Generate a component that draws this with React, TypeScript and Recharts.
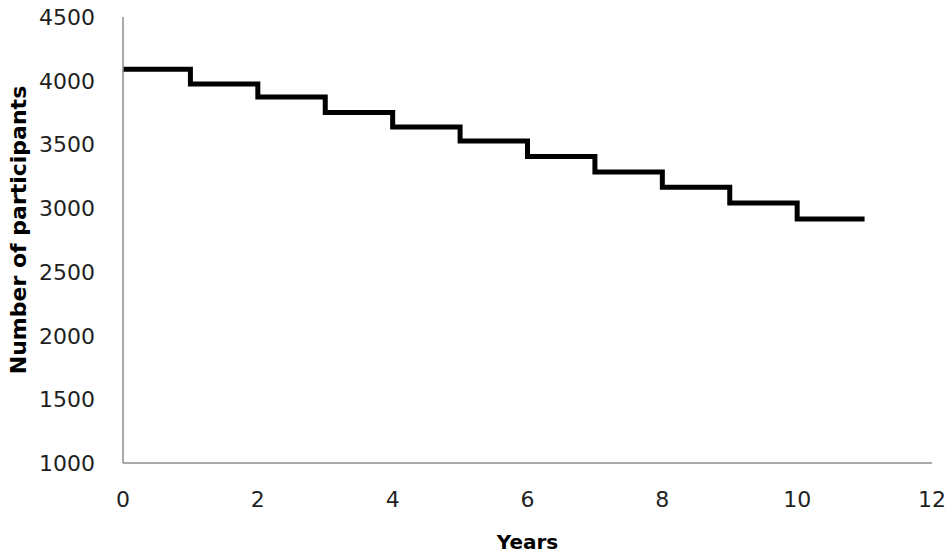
import { Line, LineChart, XAxis, YAxis } from "recharts";

// follow-up year and participants remaining (last point closes the final step)
const years = [0, 1, 2, 3, 4, 5, 6, 7, 8, 9, 10, 11];
const participants = [4090, 3975, 3873, 3750, 3637, 3526, 3406, 3284, 3163, 3040, 2915, 2915];

const xTicks = [0, 2, 4, 6, 8, 10, 12];
const yTicks = [1000, 1500, 2000, 2500, 3000, 3500, 4000, 4500];

const data = years.map((year, i) => ({ year, value: participants[i] }));

const font = "DejaVu Sans";
const titleStyle = { fontSize: 22, fontWeight: 700, fill: "#000", fontFamily: font };

const YTick = ({ x, y, payload }: any) => (
  <text x={x} y={y} dx={-28} dy={8} textAnchor="end" fontSize={22} fill="#1f1f1f" fontFamily={font}>
    {payload.value}
  </text>
);

const XTick = ({ x, y, payload }: any) => (
  <text x={x} y={y} dy={44} textAnchor="middle" fontSize={22} fill="#1f1f1f" fontFamily={font}>
    {payload.value}
  </text>
);

export default function App() {
  return (
    <div style={{ position: "absolute", left: 0, top: 0, width: 950, height: 556, background: "#fff" }}>
      <LineChart width={950} height={556} data={data} margin={{ top: 17, right: 18, bottom: 0, left: 0 }}>
        <XAxis
          dataKey="year"
          type="number"
          domain={[0, 12]}
          ticks={xTicks}
          height={93}
          tickSize={0}
          tickMargin={0}
          tick={<XTick />}
          axisLine={{ stroke: "#8c8c8c", strokeWidth: 1.5 }}
          tickLine={false}
          label={{ value: "Years", position: "insideBottom", offset: 7, style: { ...titleStyle, fontSize: 20 } }}
        />
        <YAxis
          type="number"
          domain={[1000, 4500]}
          ticks={yTicks}
          width={123}
          tickSize={0}
          tickMargin={0}
          tick={<YTick />}
          axisLine={{ stroke: "#8c8c8c", strokeWidth: 1.5 }}
          tickLine={false}
          label={{ value: "Number of participants", angle: -90, position: "insideLeft", offset: 18, dy: -10, style: { ...titleStyle, textAnchor: "middle" } }}
        />
        <Line
          dataKey="value"
          type="stepAfter"
          stroke="#000"
          strokeWidth={5}
          dot={false}
          isAnimationActive={false}
        />
      </LineChart>
    </div>
  );
}
